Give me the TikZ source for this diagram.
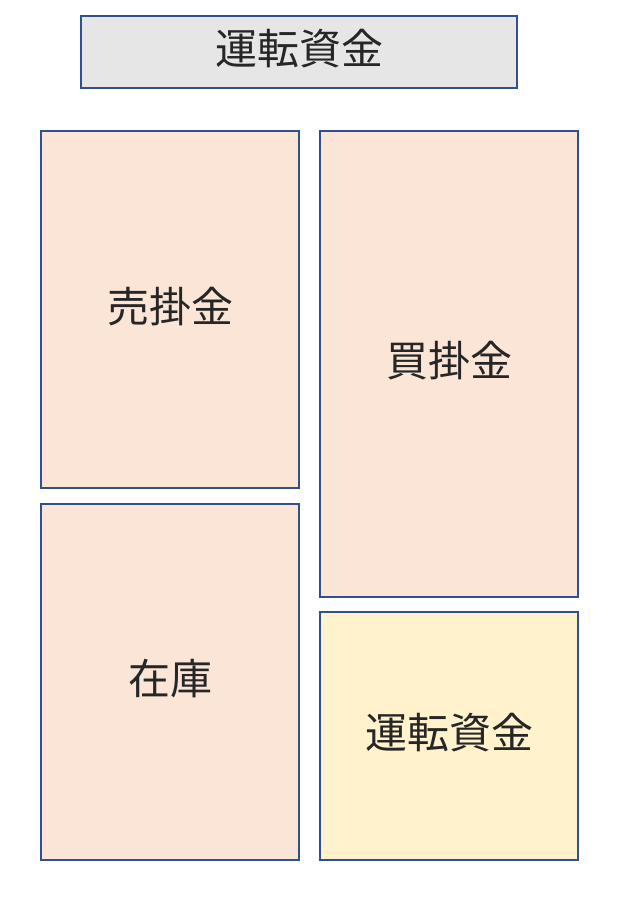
\documentclass[tikz,border=0pt]{standalone}
\usepackage{fontspec}
\newfontfamily\cjk{Noto Sans CJK JP}
\definecolor{edgeblue}{HTML}{2F528F}
\definecolor{peach}{HTML}{FBE5D6}
\definecolor{lgray}{HTML}{E7E6E6}
\definecolor{lyellow}{HTML}{FFF2CC}
\tikzset{
  blk/.style={draw=edgeblue, line width=2.4pt, font=\cjk\fontsize{42}{48}\selectfont, text=black!85},
  lbl/.style={midway, yshift=3pt},
}
\begin{document}
\begin{tikzpicture}[x=1pt,y=-1pt]
\useasboundingbox (0,0) rectangle (624,908);
\draw[blk, fill=lgray] (81,16) rectangle (517,88) node[lbl] (title) {運転資金};
\draw[blk, fill=peach] (41,131) rectangle (299,488) node[lbl] (ar) {売掛金};
\draw[blk, fill=peach] (41,504) rectangle (299,860) node[lbl] (inv) {在庫};
\draw[blk, fill=peach] (320,131) rectangle (578,597) node[lbl] (ap) {買掛金};
\draw[blk, fill=lyellow] (320,612) rectangle (578,860) node[lbl] (wc) {運転資金};
\end{tikzpicture}
\end{document}
